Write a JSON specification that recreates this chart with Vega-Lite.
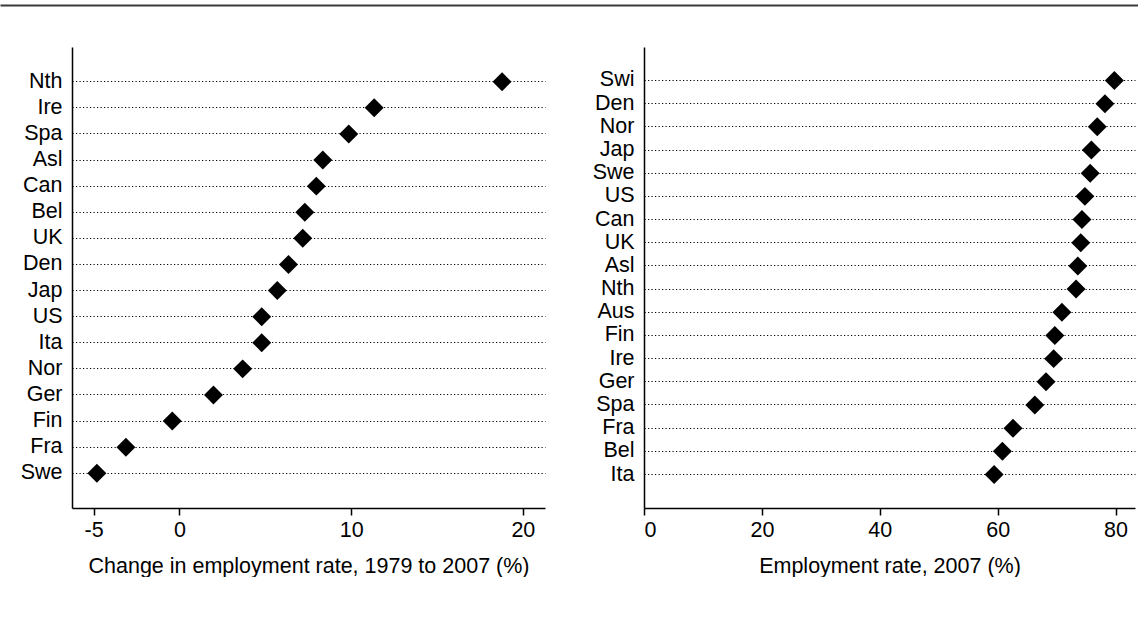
{
  "$schema": "https://vega.github.io/schema/vega-lite/v6.json",
  "padding": {"left": 0, "top": 4, "right": 0, "bottom": 0},
  "background": "white",
  "config": {
    "view": {"stroke": null},
    "font": "Liberation Sans",
    "axis": {
      "labelFont": "Liberation Sans",
      "titleFont": "Liberation Sans",
      "labelFontSize": 21.5,
      "titleFontSize": 21.5,
      "titleFontWeight": "normal",
      "labelColor": "#000000",
      "titleColor": "#000000",
      "domainColor": "#000000",
      "domainWidth": 1.5,
      "tickColor": "#000000",
      "tickWidth": 1.5
    }
  },
  "datasets": {
    "change": [
      {"country": "Nth", "value": 18.79},
      {"country": "Ire", "value": 11.34},
      {"country": "Spa", "value": 9.86},
      {"country": "Asl", "value": 8.35},
      {"country": "Can", "value": 7.97},
      {"country": "Bel", "value": 7.30},
      {"country": "UK", "value": 7.18},
      {"country": "Den", "value": 6.35},
      {"country": "Jap", "value": 5.70},
      {"country": "US", "value": 4.79},
      {"country": "Ita", "value": 4.79},
      {"country": "Nor", "value": 3.68},
      {"country": "Ger", "value": 1.98},
      {"country": "Fin", "value": -0.42},
      {"country": "Fra", "value": -3.12},
      {"country": "Swe", "value": -4.81}
    ],
    "rate": [
      {"country": "Swi", "value": 79.8},
      {"country": "Den", "value": 78.2},
      {"country": "Nor", "value": 76.9},
      {"country": "Jap", "value": 75.9},
      {"country": "Swe", "value": 75.7},
      {"country": "US", "value": 74.8},
      {"country": "Can", "value": 74.3},
      {"country": "UK", "value": 74.1},
      {"country": "Asl", "value": 73.6},
      {"country": "Nth", "value": 73.3},
      {"country": "Aus", "value": 70.9},
      {"country": "Fin", "value": 69.7},
      {"country": "Ire", "value": 69.5},
      {"country": "Ger", "value": 68.2},
      {"country": "Spa", "value": 66.3},
      {"country": "Fra", "value": 62.6},
      {"country": "Bel", "value": 60.8},
      {"country": "Ita", "value": 59.4}
    ],
    "blank": [{"t": "", "v": 0}]
  },
  "concat": [
    {
      "width": 1138,
      "height": 1,
      "data": {"name": "blank"},
      "mark": {"type": "text", "fontSize": 1},
      "encoding": {
        "text": {"field": "t", "type": "nominal"},
        "x": {
          "field": "v", "type": "quantitative",
          "scale": {"domain": [0, 1]},
          "axis": {"orient": "top", "position": -72, "title": null, "labels": false, "ticks": false, "grid": false, "domainColor": "#3a3a3a", "domainWidth": 2}
        }
      }
    },
    {
      "hconcat": [
        {
          "width": 473,
          "height": 461,
          "data": {"name": "change"},
          "mark": {"type": "point", "shape": "diamond", "filled": true, "size": 360, "color": "#000000", "opacity": 1},
          "encoding": {
            "y": {
              "field": "country", "type": "nominal", "sort": null,
              "scale": {"type": "band", "paddingInner": 0, "paddingOuter": 0.83},
              "axis": {"title": null, "ticks": false, "grid": true, "bandPosition": 0.5, "gridColor": "#000000", "gridDash": [1.2, 2.3], "gridWidth": 1.1, "labelPadding": 10, "minExtent": 72}
            },
            "x": {
              "field": "value", "type": "quantitative",
              "scale": {"domain": [-6.26, 21.29], "nice": false, "zero": false},
              "axis": {"title": "Change in employment rate, 1979 to 2007 (%)", "values": [-5, 0, 10, 20], "labelExpr": "'' + datum.value", "grid": false, "tickSize": 7, "labelPadding": 4, "titlePadding": 15}
            }
          }
        },
        {
          "width": 491,
          "height": 461,
          "data": {"name": "rate"},
          "mark": {"type": "point", "shape": "diamond", "filled": true, "size": 360, "color": "#000000", "opacity": 1},
          "encoding": {
            "y": {
              "field": "country", "type": "nominal", "sort": null,
              "scale": {"type": "band", "paddingInner": 0, "paddingOuter": 0.944},
              "axis": {"title": null, "ticks": false, "grid": true, "bandPosition": 0.5, "gridColor": "#000000", "gridDash": [1.2, 2.3], "gridWidth": 1.1, "labelPadding": 10}
            },
            "x": {
              "field": "value", "type": "quantitative",
              "scale": {"domain": [0, 83.3], "nice": false, "zero": false},
              "axis": {"title": "Employment rate, 2007 (%)", "values": [0, 20, 40, 60, 80], "grid": false, "tickSize": 7, "labelPadding": 4, "titlePadding": 15}
            }
          }
        }
      ],
      "spacing": 47
    }
  ],
  "columns": 1,
  "align": "none",
  "spacing": 41
}
